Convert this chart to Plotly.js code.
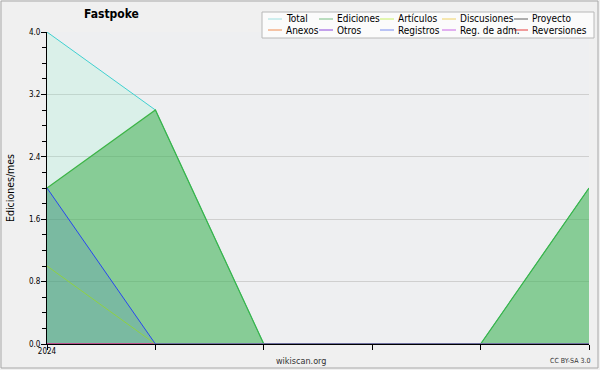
<!DOCTYPE html>
<html>
<head>
<meta charset="utf-8">
<script src="https://cdn.plot.ly/plotly-3.0.1.min.js"></script>
<style>
html,body{margin:0;padding:0;background:#f0f0f0;}
#chart{width:600px;height:370px;}
</style>
</head>
<body>
<div id="chart"></div>
<script>
// ---- data ----
var months = [0, 1, 2, 3, 4, 5];          // Jan..Jun 2024
var monthLabels = ["2024", "", "", "", "", ""];
var total      = [4, 3, 0, 0, 0, 2];
var ediciones  = [2, 3, 0, 0, 0, 2];
var articulos  = [1, 0, 0, 0, 0, 0];
var discusiones= [0, 0, 0, 0, 0, 0];
var proyecto   = [0, 0, 0, 0, 0, 0];
var anexos     = [0, 0, 0, 0, 0, 0];
var otros      = [0, 0, 0, 0, 0, 0];
var registros  = [2, 0, 0, 0, 0, 0];
var regAdm     = [0, 0, 0, 0, 0, 0];
var reversiones= [0, 0, 0, 0, 0, 0];
var legendNames = ["Total","Ediciones","Artículos","Discusiones","Proyecto",
                   "Anexos","Otros","Registros","Reg. de adm.","Reversiones"];

// ---- styles ----
var legendColors = ["#a0e0e0","#78be82","#c8f064","#f0d264","#606060",
                    "#f08c50","#8c46dc","#788cf0","#c864e6","#e63c3c"];
var W = 600, H = 370, L = 47, R = 11, T = 32, B = 26;
var PW = W - L - R, PH = H - T - B;
function px(x){ return (x - L) / PW; }
function py(y){ return (H - B - y) / PH; }

function tr(y, line, fill, width){
  var t = {x: months, y: y, type: 'scatter', mode: 'lines',
           line: {color: line, width: width || 1}, showlegend: false, hoverinfo: 'skip'};
  if (fill) { t.fill = 'tozeroy'; t.fillcolor = fill; }
  return t;
}
var data = [
  tr(total, '#40d0d0', 'rgba(138,244,206,0.2)'),
  tr(ediciones, '#3cb446', 'rgba(60,170,75,0.52)', 1.2),
  tr(discusiones, '#f0d264'),
  tr(proyecto, '#606060'),
  tr(anexos, '#f08c50'),
  tr(otros, '#8c46dc'),
  tr(regAdm, '#c864e6'),
  tr(reversiones, '#e63c3c'),
  tr(articulos, '#a0e628'),
  tr(registros, '#2846f0', 'rgba(40,70,240,0.13)')
];

var FONT = '"DejaVu Sans Condensed", "DejaVu Sans", sans-serif';
var shapes = [
  {type:'rect', xref:'paper', yref:'paper', x0:px(1), x1:px(598), y0:py(1), y1:py(368),
   line:{color:'#a8a8a8', width:1}, fillcolor:'rgba(0,0,0,0)', layer:'below'},
  {type:'rect', xref:'paper', yref:'paper', x0:px(262), x1:px(594), y0:py(12), y1:py(38),
   line:{color:'#b8b8b8', width:1}, fillcolor:'#fbfbfb'}
];
var annotations = [
  {text:'<b>Fastpoke</b>', xref:'paper', yref:'paper', x:px(111), y:py(14), showarrow:false,
   xanchor:'center', yanchor:'middle', font:{family:FONT, size:12, color:'#000'}},
  {text:'wikiscan.org', xref:'paper', yref:'paper', x:px(301), y:py(361), showarrow:false,
   xanchor:'center', yanchor:'middle', font:{family:FONT, size:9, color:'#333'}},
  {text:'CC BY-SA 3.0', xref:'paper', yref:'paper', x:px(570), y:py(361), showarrow:false,
   xanchor:'center', yanchor:'middle', font:{family:FONT, size:7, color:'#333'}}
];
var colX = [268, 319, 380, 442, 514];
var rowY = [19, 30];
for (var i = 0; i < legendNames.length; i++) {
  var c = i % 5, r = Math.floor(i / 5);
  var x0 = colX[c], y0 = rowY[r];
  shapes.push({type:'line', xref:'paper', yref:'paper', x0:px(x0), x1:px(x0+14),
    y0:py(y0), y1:py(y0), line:{color:legendColors[i], width:1}});
  annotations.push({text:legendNames[i], xref:'paper', yref:'paper', x:px(x0+16), y:py(y0),
    showarrow:false, xanchor:'left', yanchor:'middle',
    font:{family:FONT, size:10, color:'#000'}});
}

var layout = {
  width: W, height: H,
  margin: {l: L, r: R, t: T, b: B, pad: 0},
  paper_bgcolor: '#f0f0f0',
  plot_bgcolor: '#eeeff1',
  showlegend: false,
  font: {family: FONT, color: '#000'},
  xaxis: {
    range: [0, 5], tickvals: months, ticktext: monthLabels,
    showgrid: false, zeroline: false, showline: true, linecolor: '#000', linewidth: 1,
    ticks: 'outside', ticklen: 5, tickcolor: '#000',
    tickfont: {family: FONT, size: 8, color: '#000'},
    ticklabelstandoff: -6, fixedrange: true
  },
  yaxis: {
    range: [0, 4], dtick: 0.8, tick0: 0, tickformat: '.1f',
    showgrid: true, gridcolor: '#cfcfcf', gridwidth: 1,
    zeroline: false, showline: true, linecolor: '#000', linewidth: 1,
    ticks: 'outside', ticklen: 5, tickcolor: '#000',
    minor: {dtick: 0.2, ticks: 'outside', ticklen: 4, tickcolor: '#000', showgrid: false},
    tickfont: {family: FONT, size: 8, color: '#000'},
    ticklabelstandoff: -1,
    title: {text: 'Ediciones/mes', font: {family: FONT, size: 10.5, color: '#000'}, standoff: 12},
    fixedrange: true
  },
  shapes: shapes,
  annotations: annotations
};
Plotly.newPlot('chart', data, layout, {displayModeBar: false, staticPlot: true});
</script>
</body>
</html>
